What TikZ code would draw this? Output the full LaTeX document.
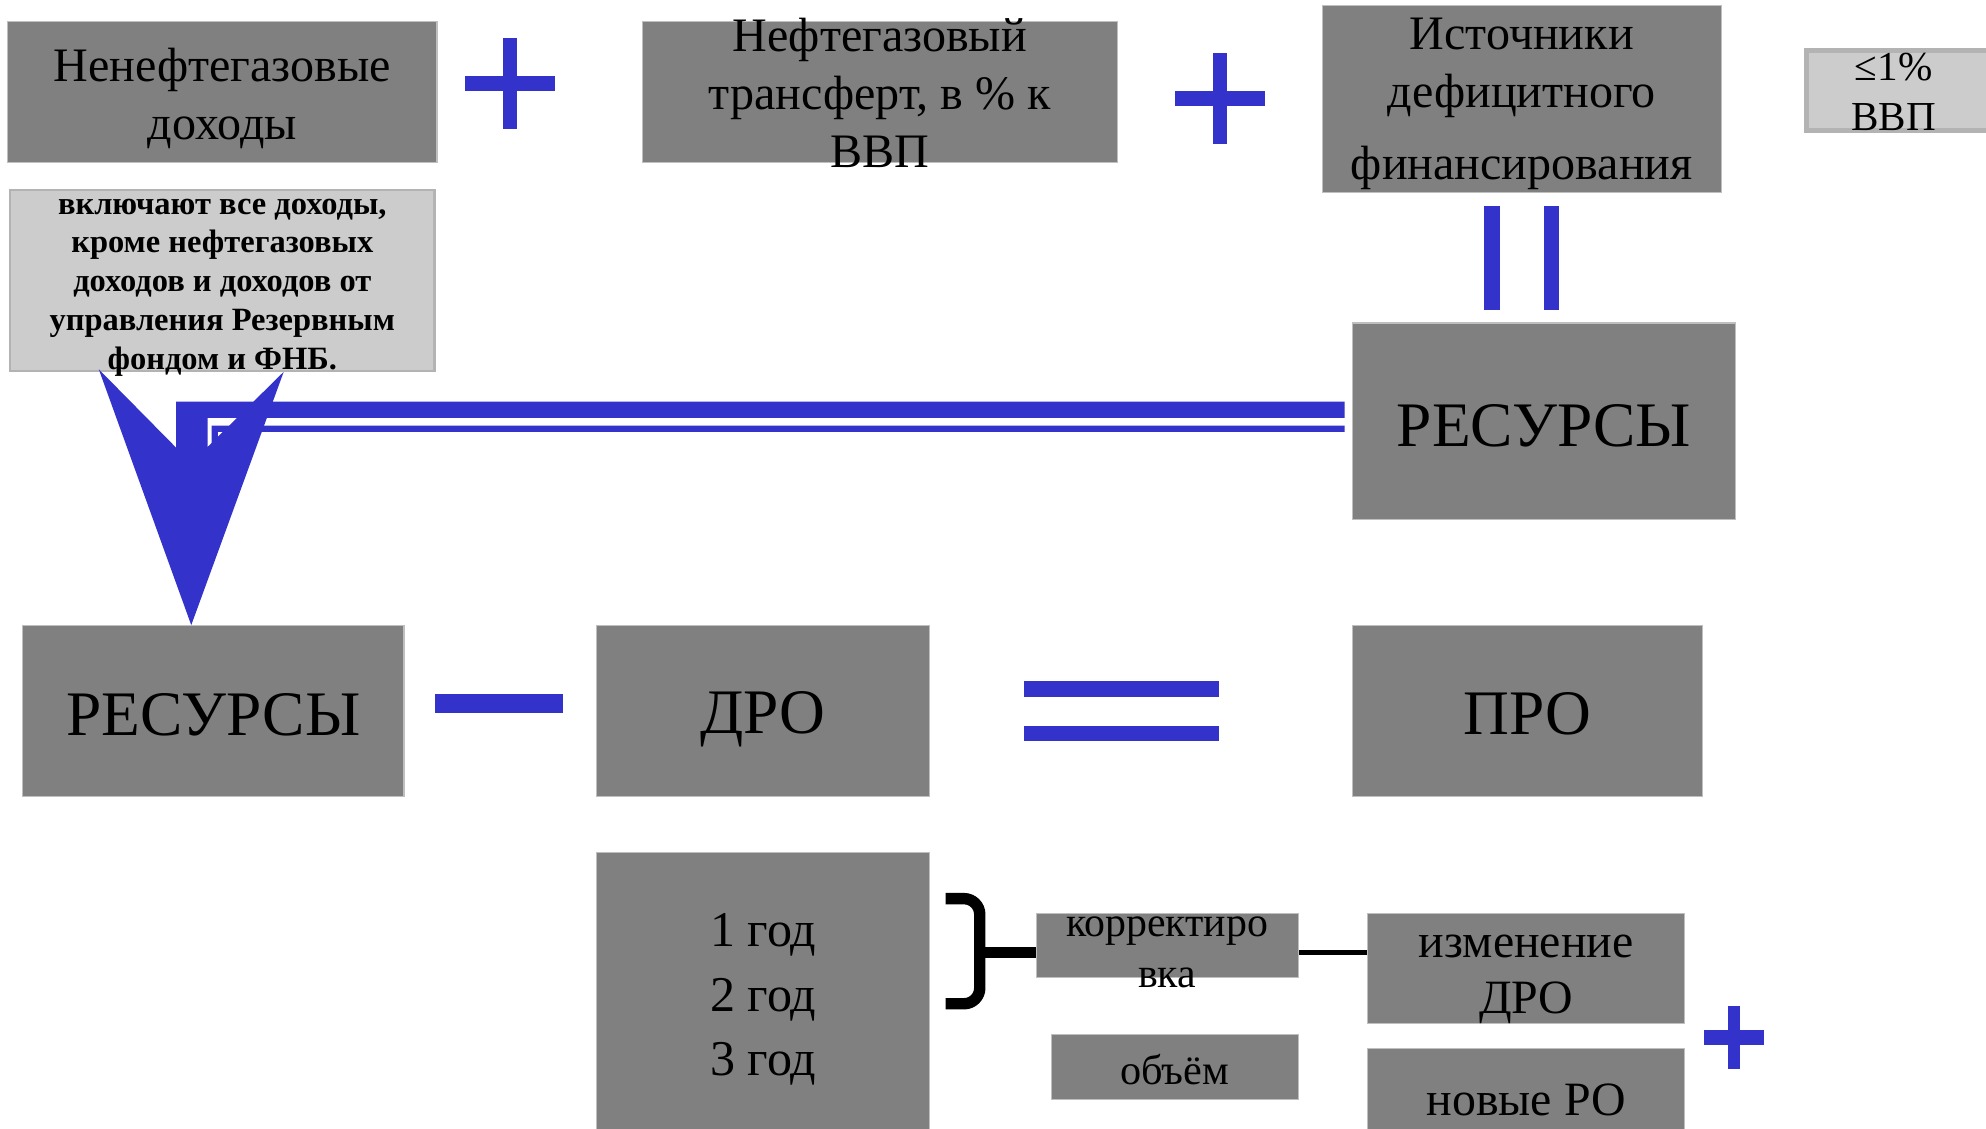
\documentclass[tikz,border=0pt]{standalone}
\usepackage{fontspec}
\setmainfont{Liberation Serif}
\usetikzlibrary{calc}

\definecolor{boxgray}{HTML}{808080}
\definecolor{notegray}{HTML}{CCCCCC}
\definecolor{noteedge}{HTML}{B3B3B3}
\definecolor{signblue}{HTML}{3333CC}

\tikzset{
    wh/.style 2 args={minimum width=#1*0.02cm, minimum height=#2*0.02cm},
    box/.style={draw=white!75!black, line width=0.5pt, fill=boxgray, inner sep=0pt},
    note/.style={draw=noteedge, line width=1.1pt, fill=notegray, inner sep=0pt},
    txt/.style={align=center, inner sep=0pt, font=\fontsize{21.6}{26.2}\selectfont},
    bigtxt/.style={inner sep=0pt, font=\fontsize{28.5}{34}\selectfont},
    sign/.style={fill=signblue},
    link/.style={draw=black, line width=0.08cm},
}

\begin{document}
\begin{tikzpicture}[x=0.02cm, y=-0.02cm]
    \useasboundingbox (0,0) rectangle (1568,891);
    \clip (0,0) rectangle (1568,891);
    % top row
    \node (nonoil) [box, wh={339}{111}] at (175.5,72.5) {};
    \node (nonoiltxt) [txt] at ($(nonoil.center)+(0,5)$) {Ненефтегазовые\\доходы};
    \node (transfer) [box, wh={375}{111}] at (694.5,72.5) {};
    \node (transfertxt) [txt] at ($(transfer.center)+(0,1)$) {Нефтегазовый\\трансферт, в \% к\\ВВП};
    \node (deficit) [box, wh={315}{148}] at (1201.5,78) {};
    \node (deficittxt) [txt] at ($(deficit.center)+(0,4)$) {Источники\\дефицитного\\[6pt]финансирования};
    \node (gdp) [note, line width=2.3pt, wh={146}{63}] at (1499,71.5) {};
    \node (gdptxt) [txt, font=\fontsize{18.5}{22.8}\selectfont] at ($(gdp.center)+(-4,1)$) {≤1\%\\ВВП};
    \node (incl) [note, wh={335}{143}] at (175.5,221.5) {};
    \node (incltxt) [txt, font=\fontsize{14.6}{17.4}\selectfont\bfseries] at ($(incl.center)+(0,5.5)$)
        {включают все доходы,\\кроме нефтегазовых\\доходов и доходов от\\управления Резервным\\фондом и ФНБ.};
    \coordinate (plusA) at (402.5,66);
    \coordinate (plusB) at (963.5,78);
    \foreach \c in {plusA,plusB} {
        \fill[sign] ($(\c)+(-35.5,-6)$) rectangle ($(\c)+(35.5,6)$);
        \fill[sign] ($(\c)+(-5.5,-36)$) rectangle ($(\c)+(5.5,36)$);
    }
    % resources
    \node (res1) [box, wh={302}{155}] at (1219,332.5) {};
    \node (res1txt) [bigtxt] at ($(res1.center)+(0,4)$) {РЕСУРСЫ};
    \foreach \dx in {-23.5,23.5}
        \fill[sign] ($(deficit.south)+(\dx-6,10)$) rectangle ($(deficit.south)+(\dx+6,92)$);
    % middle row
    \node (res2) [box, wh={301}{135}] at (168.5,561.5) {};
    \node (res2txt) [bigtxt] at ($(res2.center)+(0,3)$) {РЕСУРСЫ};
    \node (dro) [box, wh={263}{135}] at (602.5,561.5) {};
    \node (drotxt) [bigtxt] at ($(dro.center)+(0,6)$) {ДРО};
    \node (pro) [box, wh={276}{135}] at (1206,561.5) {};
    \node (protxt) [bigtxt] at ($(pro.center)+(0,2)$) {ПРО};
    \fill[sign] ($(res2.east)+(24,-13.5)$) rectangle ($(dro.west)+(-26,1.5)$);
    \fill[sign] ($(dro.east)+(74,-23.5)$) rectangle ($(pro.west)+(-105,-11.5)$);
    \fill[sign] ($(dro.east)+(74,11.5)$) rectangle ($(pro.west)+(-105,23.5)$);
    % arrow from res1 to res2
    \coordinate (tail) at ($(res1.west)+(-6,0)$);
    \coordinate (tip) at ($(res2.north)+(-17.5,0)$);
    \coordinate (notch) at ($(tip)+(0,-128)$);
    \fill[sign] ($(tail)+(0,-15.5)$) -| ($(notch)+(-12,14)$) -- ++(25,0) |- ($(tail)+(0,-2.5)$) -- cycle;
    \fill[sign] ($(tail)+(0,3.5)$) -| ($(notch)+(16,14)$) -- ++(5,0) |- ($(tail)+(0,8.5)$) -- cycle;
    \fill[sign] (tip) -- ($(tip)+(-73,-202)$) -- (notch) -- ($(tip)+(73,-200)$) -- cycle;
    % bottom part
    \node (years) [box, wh={263}{226}] at (602.5,786) {};
    \node (yearstxt) [txt, font=\fontsize{22.5}{29}\selectfont] at ($(years.center)+(0,3)$) {1 год\\2 год\\3 год};
    \node (corr) [box, wh={207}{51}] at (921.5,746.5) {};
    \node (corrtxt) [txt, font=\fontsize{18.8}{22.8}\selectfont] at ($(corr.center)+(0,5.5)$) {корректиро\\вка};
    \node (vol) [box, wh={195}{51}] at (927.5,842.5) {};
    \node (voltxt) [txt, font=\fontsize{19}{22.8}\selectfont] at ($(vol.center)+(0,2)$) {объём};
    \node (chg) [box, wh={250}{87}] at (1205,764.5) {};
    \node (chgtxt) [txt, font=\fontsize{21.5}{25}\selectfont] at ($(chg.center)+(0,8.5)$) {изменение\\ДРО};
    \node (newro) [box, wh={250}{76}] at (1205,866) {};
    \node (newrotxt) [txt, font=\fontsize{21.5}{25}\selectfont] at ($(newro.center)+(0,2)$) {новые РО};
    \coordinate (plusC) at (1369,819);
    \fill[sign] ($(plusC)+(-23.5,-6)$) rectangle ($(plusC)+(23.5,6)$);
    \fill[sign] ($(plusC)+(-5,-25)$) rectangle ($(plusC)+(5,25)$);
    % brace and links
    \draw[line width=0.18cm, rounded corners=0.25cm] ($(corr.west)+(-71,-37)$) -| ($(corr.west)+(-44,5.5)$) |- ($(corr.west)+(-71,46)$);
    \draw[link, line width=0.16cm] ($(corr.west)+(-44,5.5)$) -- ($(corr.west)+(0,5.5)$);
    \coordinate (kl) at ($(corr.east)+(0,5.5)$);
    \draw[link] (kl) -- (kl -| chg.west);
\end{tikzpicture}
\end{document}
